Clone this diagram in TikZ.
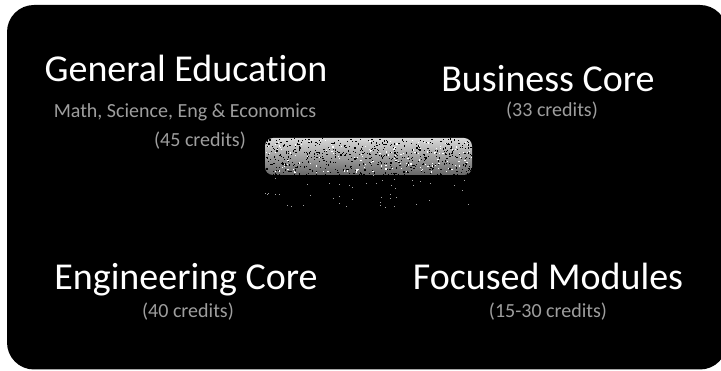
\documentclass[tikz,border=0pt]{standalone}
\usepackage{fontspec}
\setmainfont[Ligatures=NoCommon]{Carlito}
\begin{document}
\begin{tikzpicture}[x=1pt,y=-1pt,
  heading/.style={anchor=base,text=white,inner sep=0pt,font=\fontsize{38}{40}\selectfont},
  credits/.style={anchor=base,text=white!62!black,inner sep=0pt,font=\fontsize{20}{22}\selectfont}]
\useasboundingbox (0,0) rectangle (721,371);
\clip (0,0) rectangle (721,371);
\fill[white] (0,0) rectangle (721,371);
% dark panel
\fill[black, rounded corners=27pt] (7,5) rectangle (727,369.5);
% grainy patch in the middle
\shade[top color=white!85!black, bottom color=white!40!black, rounded corners=8pt] (265,138) rectangle (472,175);
\pgfmathsetseed{42}
\foreach \i in {1,...,550} {
  \pgfmathsetmacro\px{265+206*rnd}
  \pgfmathsetmacro\py{138+37*rnd}
  \fill[black] (\px,\py) rectangle ++(1.2,1.2);
}
\foreach \i in {1,...,150} {
  \pgfmathsetmacro\px{265+206*rnd}
  \pgfmathsetmacro\py{140+32*rnd}
  \fill[white] (\px,\py) rectangle ++(1.2,1.2);
}
\foreach \i in {1,...,45} {
  \pgfmathsetmacro\px{265+206*rnd}
  \pgfmathsetmacro\py{175+32*rnd}
  \fill[white!65!black] (\px,\py) rectangle ++(1,1);
}
% headings
\node[heading] (gen) at (186,82) {General Education};
\node[heading] (bus) at (548,92) {Business Core};
\node[heading] (eng) at (186,290) {Engineering Core};
\node[heading] (foc) at (548,290) {Focused Modules};
% credit lines
\node[credits] (gen1) at (185,118) {Math, Science, Eng \& Economics};
\node[credits] (gen2) at (200,147) {(45 credits)};
\node[credits] (bus1) at (552,117) {(33 credits)};
\node[credits] (eng1) at (188,318) {(40 credits)};
\node[credits] (foc1) at (548,318) {(15-30 credits)};
\end{tikzpicture}
\end{document}
